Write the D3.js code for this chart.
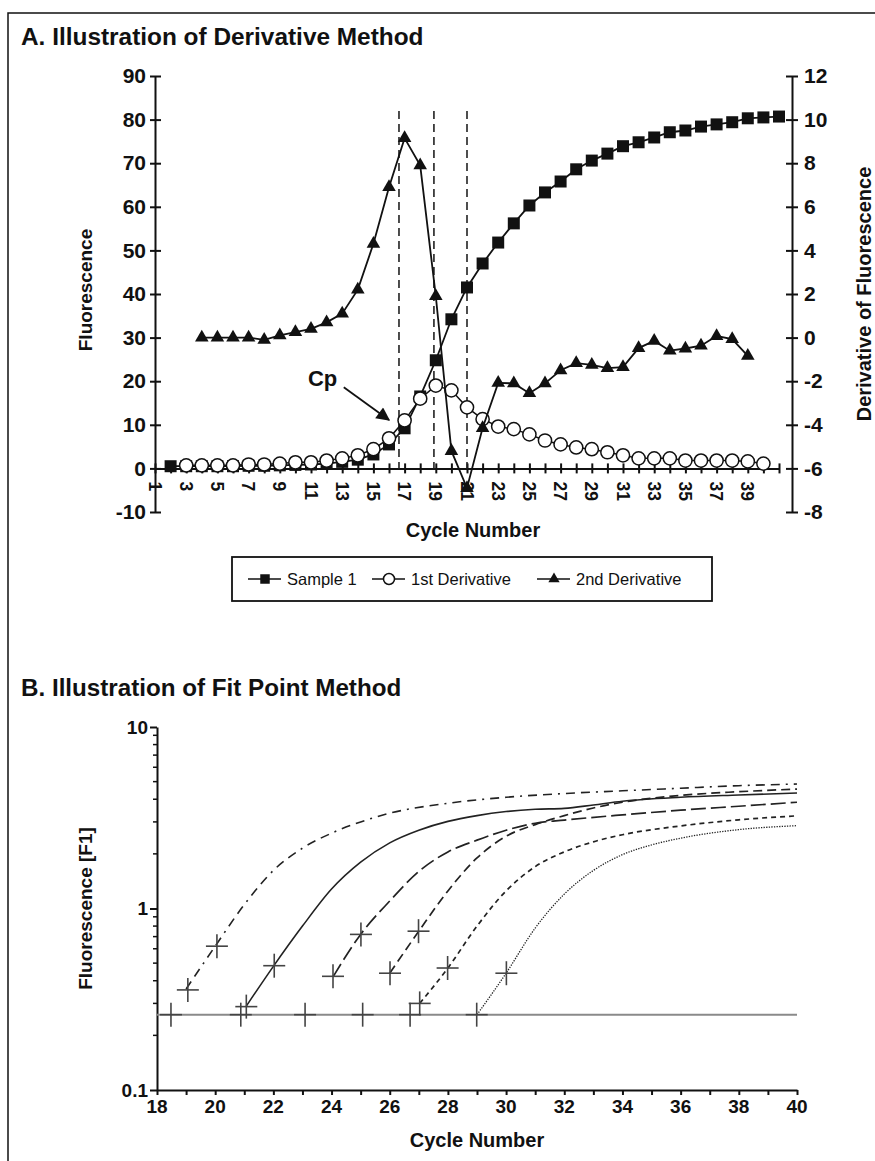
<!DOCTYPE html>
<html><head><meta charset="utf-8">
<script src="https://cdn.jsdelivr.net/npm/d3@7"></script>
<style>
body{margin:0;background:#fff;}
svg{display:block;}
text{font-family:"Liberation Sans", Arial, Helvetica, sans-serif;fill:#111;}
</style></head>
<body><svg id="chart" width="875" height="1161"></svg>
<script>
// ---------------- Panel A data ----------------
const sampleCycles = d3.range(2, 42);
const sample1 = [0.5,0.5,0.5,0.5,0.5,0.6,0.6,0.7,0.8,0.9,1.1,1.5,2.0,3.2,5.5,9.2,16.5,24.8,34.2,41.5,
  47,51.8,56.2,60.3,63.3,65.8,68.6,70.6,72.2,73.9,74.8,75.9,77.1,77.5,78.4,78.9,79.4,80.3,80.5,80.7];
const firstDerivCycles = d3.range(3, 41);
const firstDeriv = [0.7,0.7,0.7,0.7,0.9,0.9,1.1,1.4,1.4,1.8,2.3,3.0,4.4,6.9,11,16,19,17.9,14,11.3,
  9.6,9.0,7.8,6.4,5.5,4.8,4.4,3.7,3.0,2.3,2.3,2.3,1.8,1.8,1.8,1.8,1.6,1.1];
const secondDerivCycles = d3.range(4, 40);
const secondDeriv = [0,0,0,0,-0.1,0.1,0.25,0.4,0.7,1.1,2.2,4.3,6.9,9.15,7.9,1.9,-5.2,-6.9,-4.15,-2.08,
  -2.1,-2.55,-2.1,-1.5,-1.17,-1.25,-1.4,-1.35,-0.48,-0.15,-0.6,-0.5,-0.37,0.07,-0.07,-0.84];
const cpLines = [16.64, 18.88, 21.0];      // cycles of dashed markers
const cpLineTop = 82;                      // fluorescence value where dashed lines start
const xTicksA = d3.range(1, 42);
const xTickLabelsA = d3.range(1, 40, 2);
const yTicksLeftA = d3.range(-10, 91, 10);
const yTicksRightA = d3.range(-8, 13, 2);
const legendLabels = ["Sample 1", "1st Derivative", "2nd Derivative"];

// ---------------- Panel B data ----------------
const threshold = 0.26;
const fitCurve1 = [[19,0.36],[20,0.62],[21,1.05],[22,1.62],[23,2.15],[24,2.6],[25,3.0],[26,3.35],[28,3.8],[30,4.1],[32,4.3],[34,4.45],[36,4.6],[38,4.75],[40,4.85]];
const fitCurve2 = [[21.07,0.29],[22,0.48],[23,0.8],[24,1.28],[25,1.8],[26,2.3],[27,2.7],[28,3.02],[29,3.25],[30,3.42],[31,3.52],[32,3.56],[33,3.72],[34,3.9],[36,4.1],[38,4.22],[40,4.33]];
const fitCurve3 = [[24.05,0.42],[25,0.72],[26,1.1],[27,1.6],[28,2.05],[29,2.38],[30,2.7],[31,2.95],[32,3.07],[34,3.28],[36,3.48],[38,3.66],[40,3.85]];
const fitCurve4 = [[26,0.44],[27,0.75],[28,1.25],[29,1.9],[30,2.5],[31,2.9],[32,3.25],[33,3.58],[34,3.85],[36,4.2],[38,4.4],[40,4.55]];
const fitCurve5 = [[27.03,0.30],[28,0.47],[29,0.8],[30,1.25],[31,1.7],[32,2.05],[33,2.33],[34,2.55],[36,2.85],[38,3.08],[40,3.24]];
const fitCurve6 = [[29,0.26],[30,0.44],[31,0.78],[32,1.2],[33,1.62],[34,1.98],[35,2.24],[36,2.44],[38,2.72],[40,2.86]];
const fitPointCycles = [18.48,19.06,20.06,20.88,21.07,22.03,23.09,24.05,25.01,25.07,26.01,26.7,26.99,27.03,27.99,28.99,30.01];
const fitPointValues = [0.26,0.356,0.62,0.26,0.288,0.484,0.26,0.423,0.72,0.26,0.44,0.26,0.75,0.30,0.47,0.26,0.44];
const xTicksB = d3.range(18, 41);
const xTickLabelsB = d3.range(18, 41, 2);
const yMajorB = [0.1, 1, 10];
const yMinorB = [0.2,0.3,0.4,0.5,0.6,0.7,0.8,0.9,2,3,4,5,6,7,8,9];

// ---------------- drawing ----------------
const svg = d3.select("#chart");
const BOLD = "bold";
const plain = d => String(d);   // hyphen-minus like the original
svg.append("path").attr("d","M8,1161V13H875").attr("fill","none").attr("stroke","#111").attr("stroke-width",1.5);

// ===== Panel A =====
const gA = svg.append("g");
gA.append("text").attr("x",21).attr("y",45).attr("font-size",24.4).attr("font-weight",BOLD)
  .text("A. Illustration of Derivative Method");

const xA = d3.scaleLinear().domain([1,41]).range([155,779]);
const yL = d3.scaleLinear().domain([-10,90]).range([512,76]);
const yR = d3.scaleLinear().domain([-8,12]).range([512,76]);

// x axis
const xAx = gA.append("g").attr("transform",`translate(0,${yL(0)})`)
  .call(d3.axisBottom(xA).tickValues(xTicksA).tickSize(5).tickSizeOuter(0).tickFormat(""));
xAx.selectAll(".tick line").attr("y1",-5).attr("stroke-width",2).attr("stroke","#111");
xAx.select(".domain").attr("stroke-width",2).attr("stroke","#111");
gA.selectAll("text.xlA").data(xTickLabelsA).join("text").attr("class","xlA")
  .attr("transform",d=>`translate(${xA(d)},${yL(0)+13}) rotate(90)`)
  .attr("dy","0.36em").attr("font-size",17.5).attr("font-weight",BOLD).text(plain);

// left axis
const yLax = gA.append("g").attr("transform",`translate(${xA(1)},0)`)
  .call(d3.axisLeft(yL).tickValues(yTicksLeftA).tickSize(5).tickSizeOuter(0).tickPadding(4).tickFormat(plain));
yLax.selectAll(".tick line").attr("x1",6).attr("stroke-width",2).attr("stroke","#111");
yLax.select(".domain").attr("stroke-width",2).attr("stroke","#111");
yLax.selectAll(".tick text").attr("font-size",21).attr("font-weight",BOLD).attr("font-family","Liberation Sans").attr("fill","#111");

// right axis
const yRax = gA.append("g").attr("transform",`translate(792,0)`)
  .call(d3.axisRight(yR).tickValues(yTicksRightA).tickSize(6).tickSizeOuter(0).tickPadding(6).tickFormat(plain));
yRax.selectAll(".tick line").attr("x1",-6).attr("stroke-width",2).attr("stroke","#111");
yRax.select(".domain").attr("stroke-width",2).attr("stroke","#111");
yRax.selectAll(".tick text").attr("font-size",21).attr("font-weight",BOLD).attr("font-family","Liberation Sans").attr("fill","#111");

// axis titles
gA.append("text").attr("transform",`translate(92,${(yL(90)+yL(-10))/2 - 4}) rotate(-90)`)
  .attr("text-anchor","middle").attr("font-size",19).attr("font-weight",BOLD).text("Fluorescence");
gA.append("text").attr("transform",`translate(871,${(yR(12)+yR(-8))/2}) rotate(-90)`)
  .attr("text-anchor","middle").attr("font-size",20).attr("font-weight",BOLD).text("Derivative of Fluorescence");
gA.append("text").attr("x",(xA(1)+xA(41))/2+6).attr("y",537).attr("text-anchor","middle")
  .attr("font-size",20).attr("font-weight",BOLD).text("Cycle Number");

// dashed Cp lines
gA.selectAll("line.cp").data(cpLines).join("line").attr("class","cp")
  .attr("x1",d=>xA(d)).attr("x2",d=>xA(d)).attr("y1",yL(cpLineTop)).attr("y2",yL(0))
  .attr("stroke","#222").attr("stroke-width",1.6).attr("stroke-dasharray","8,5");

// series
const sData = sampleCycles.map((c,i)=>({c, v:sample1[i]}));
const d1Data = firstDerivCycles.map((c,i)=>({c, v:firstDeriv[i]}));
const d2Data = secondDerivCycles.map((c,i)=>({c, v:secondDeriv[i]}));
const lineL = d3.line().x(d=>xA(d.c)).y(d=>yL(d.v));
const lineR = d3.line().x(d=>xA(d.c)).y(d=>yR(d.v));

gA.append("path").datum(sData).attr("d",lineL).attr("fill","none").attr("stroke","#111").attr("stroke-width",1.8);
gA.selectAll("path.sq").data(sData).join("path").attr("class","sq")
  .attr("transform",d=>`translate(${xA(d.c)},${yL(d.v)})`)
  .attr("d",d3.symbol().type(d3.symbolSquare).size(144)).attr("fill","#111");

gA.append("path").datum(d1Data).attr("d",lineL).attr("fill","none").attr("stroke","#111").attr("stroke-width",1.5);
gA.selectAll("circle.c1").data(d1Data).join("circle").attr("class","c1")
  .attr("cx",d=>xA(d.c)).attr("cy",d=>yL(d.v)).attr("r",6.6)
  .attr("fill","#fff").attr("stroke","#111").attr("stroke-width",1.5);

gA.append("path").datum(d2Data).attr("d",lineR).attr("fill","none").attr("stroke","#111").attr("stroke-width",1.8);
gA.selectAll("path.tr").data(d2Data).join("path").attr("class","tr")
  .attr("transform",d=>`translate(${xA(d.c)},${yR(d.v)})`)
  .attr("d",d3.symbol().type(d3.symbolTriangle).size(80)).attr("fill","#111");

// Cp annotation
const defs = svg.append("defs");
defs.append("marker").attr("id","arrow").attr("viewBox","0 0 10 10").attr("refX",9).attr("refY",5)
  .attr("markerWidth",8).attr("markerHeight",7.5).attr("markerUnits","strokeWidth").attr("orient","auto")
  .append("path").attr("d","M0,0L10,5L0,10Z").attr("fill","#111");
gA.append("text").attr("x",xA(10.8)).attr("y",yL(18.8)).attr("font-size",22).attr("font-weight",BOLD).text("Cp");
gA.append("line").attr("x1",xA(13.1)).attr("y1",yL(18.6)).attr("x2",xA(16.0)).attr("y2",yL(11.1))
  .attr("stroke","#111").attr("stroke-width",1.8).attr("marker-end","url(#arrow)");

// legend
const lg = gA.append("g");
lg.append("rect").attr("x",232).attr("y",557).attr("width",480).attr("height",44)
  .attr("fill","none").attr("stroke","#111").attr("stroke-width",1.8);
const legendX = [248, 372, 537];
legendLabels.forEach((lab,i)=>{
  const x0 = legendX[i], yy = 579;
  lg.append("line").attr("x1",x0).attr("x2",x0+33).attr("y1",yy).attr("y2",yy).attr("stroke","#111").attr("stroke-width",1.6);
  const cx = x0+17;
  if(i===0) lg.append("path").attr("transform",`translate(${cx},${yy})`).attr("d",d3.symbol().type(d3.symbolSquare).size(90)).attr("fill","#111");
  if(i===1) lg.append("circle").attr("cx",cx).attr("cy",yy).attr("r",5.5).attr("fill","#fff").attr("stroke","#111").attr("stroke-width",1.5);
  if(i===2) lg.append("path").attr("transform",`translate(${cx},${yy})`).attr("d",d3.symbol().type(d3.symbolTriangle).size(55)).attr("fill","#111");
  lg.append("text").attr("x",x0+39).attr("y",yy).attr("dy","0.36em").attr("font-size",16.5).text(lab);
});

// ===== Panel B =====
const gB = svg.append("g");
gB.append("text").attr("x",21).attr("y",696).attr("font-size",24.2).attr("font-weight",BOLD)
  .text("B. Illustration of Fit Point Method");
const xB = d3.scaleLinear().domain([18,40]).range([157,797]);
const yB = d3.scaleLog().domain([0.1,10]).range([1090,727]);
const NARROW = "'Liberation Sans Narrow', 'Liberation Sans', Arial, sans-serif";

// y axis
const yBax = gB.append("g").attr("transform",`translate(${xB(18)},0)`)
  .call(d3.axisLeft(yB).tickValues(yMajorB).tickSize(7).tickSizeOuter(0).tickPadding(2).tickFormat(plain));
yBax.selectAll(".tick line").attr("stroke-width",2).attr("stroke","#111");
yBax.select(".domain").attr("stroke-width",2).attr("stroke","#111");
yBax.selectAll(".tick text").attr("font-size",19).attr("font-weight",BOLD).attr("font-family",NARROW).attr("fill","#111");
gB.selectAll("line.ymin").data(yMinorB).join("line").attr("class","ymin")
  .attr("x1",xB(18)-4).attr("x2",xB(18)).attr("y1",d=>yB(d)).attr("y2",d=>yB(d))
  .attr("stroke","#111").attr("stroke-width",1.5);

// x axis
const xBax = gB.append("g").attr("transform",`translate(0,${yB(0.1)})`)
  .call(d3.axisBottom(xB).tickValues(xTicksB).tickSize(5).tickSizeOuter(0).tickFormat(""));
xBax.selectAll(".tick line").attr("stroke-width",2).attr("stroke","#111");
xBax.select(".domain").attr("stroke-width",2.2).attr("stroke","#111");
gB.selectAll("text.xlB").data(xTickLabelsB).join("text").attr("class","xlB")
  .attr("x",d=>xB(d)).attr("y",yB(0.1)+23).attr("text-anchor","middle")
  .attr("font-size",19).attr("font-weight",BOLD).attr("font-family",NARROW).text(plain);
gB.append("text").attr("x",(xB(18)+xB(40))/2).attr("y",1147).attr("text-anchor","middle")
  .attr("font-size",20).attr("font-weight",BOLD).attr("font-family",NARROW).text("Cycle Number");
gB.append("text").attr("transform",`translate(92,${(yB(0.1)+yB(10))/2}) rotate(-90)`)
  .attr("text-anchor","middle").attr("font-size",19).attr("font-weight",BOLD).text("Fluorescence [F1]");

// threshold line
gB.append("line").attr("x1",xB(18)).attr("x2",xB(40)).attr("y1",yB(threshold)).attr("y2",yB(threshold))
  .attr("stroke","#8a8a8a").attr("stroke-width",2);

// fit curves
const curves = [fitCurve1, fitCurve2, fitCurve3, fitCurve4, fitCurve5, fitCurve6];
const dashes = ["9,6,9,6,2,6", null, "15,5", "9,5", "5,4", "1.3,1.3"];
const widths = [1.6, 1.6, 1.7, 1.7, 1.7, 1.3];
const lineB = d3.line().x(d=>xB(d[0])).y(d=>yB(d[1])).curve(d3.curveMonotoneX);
curves.forEach((cv,i)=>{
  gB.append("path").datum(cv).attr("d",lineB).attr("fill","none").attr("stroke","#222")
    .attr("stroke-width",widths[i]).attr("stroke-dasharray",dashes[i]);
});

// fit point crosses
const fp = fitPointCycles.map((c,i)=>({c, v:fitPointValues[i]}));
const crosses = gB.selectAll("g.fp").data(fp).join("g").attr("class","fp")
  .attr("transform",d=>`translate(${xB(d.c)},${yB(d.v)})`);
crosses.append("line").attr("x1",-11).attr("x2",11).attr("stroke","#444").attr("stroke-width",1.6);
crosses.append("line").attr("y1",-12).attr("y2",12).attr("stroke","#444").attr("stroke-width",1.6);
</script></body></html>
